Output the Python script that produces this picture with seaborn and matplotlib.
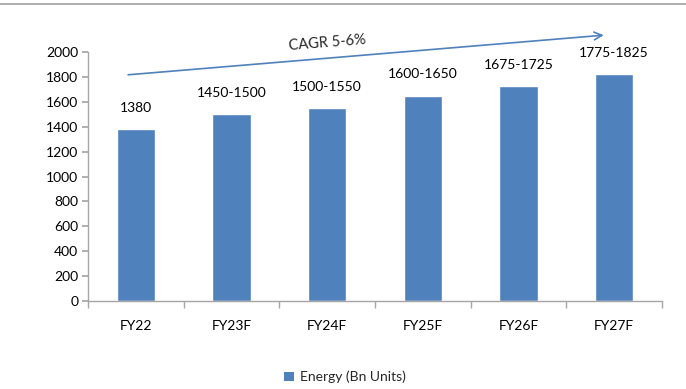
import matplotlib
matplotlib.use("Agg")
import matplotlib.pyplot as plt
from matplotlib.patches import Patch
import seaborn as sns
import pandas as pd

# Energy demand outlook
years = ["FY22", "FY23F", "FY24F", "FY25F", "FY26F", "FY27F"]
energy = [1380, 1500, 1550, 1650, 1725, 1825]
value_labels = ["1380", "1450-1500", "1500-1550", "1600-1650", "1675-1725", "1775-1825"]
series_name = "Energy (Bn Units)"
cagr_text = "CAGR 5-6%"

sns.set_theme(style="white")
plt.rcParams["font.family"] = ["Lato", "DejaVu Sans"]

df = pd.DataFrame({"Year": years, "Energy": energy})

fig = plt.figure(figsize=(6.86, 3.89), dpi=100)
ax = fig.add_axes([88 / 686, 1 - 301 / 389, (662 - 88) / 686, (301 - 52) / 389])

bar_color = "#4F81BD"
sns.barplot(data=df, x="Year", y="Energy", color=bar_color, width=0.4,
            saturation=1, ax=ax)

ax.set_ylim(0, 2000)
ax.set_xlim(-0.5, len(years) - 0.5)
ax.set_yticks(range(0, 2001, 200))
ax.set_xlabel("")
ax.set_ylabel("")

axis_grey = "#A6A6A6"
for side in ["top", "right"]:
    ax.spines[side].set_visible(False)
for side in ["left", "bottom"]:
    ax.spines[side].set_color(axis_grey)
    ax.spines[side].set_linewidth(1.0)

# y ticks outward on the left, x ticks placed between categories
ax.tick_params(axis="y", which="major", left=True, length=4, color=axis_grey,
               labelsize=10, labelcolor="#000000", pad=3)
ax.set_xticks(range(len(years)))
ax.set_xticklabels(years)
ax.tick_params(axis="x", which="major", bottom=False, labelsize=10,
               labelcolor="#000000", pad=8)
ax.set_xticks([i + 0.5 for i in range(-1, len(years))], minor=True)
ax.tick_params(axis="x", which="minor", bottom=True, length=5, color=axis_grey)

# value labels above bars
for i, (v, lab) in enumerate(zip(energy, value_labels)):
    ax.annotate(lab, (i, v), xytext=(0, 11), textcoords="offset points",
                ha="center", va="bottom", fontsize=10, color="#000000")

# growth arrow
ax.annotate("", xy=(4.92, 2137), xytext=(-0.11, 1815),
            arrowprops=dict(arrowstyle="->", color=bar_color, lw=1.2,
                            mutation_scale=14),
            annotation_clip=False)
ax.text(2.0, 2075, cagr_text, ha="center", va="center", fontsize=10.5,
        rotation=4.5, rotation_mode="anchor", clip_on=False)

# thin rule across the top of the figure
fig.add_artist(plt.Line2D([0, 1], [1 - 4 / 389, 1 - 4 / 389],
                          transform=fig.transFigure, color="#A0A0A0", lw=1.2))

fig.legend(handles=[Patch(facecolor=bar_color, edgecolor="none")],
           labels=[series_name], loc="center",
           bbox_to_anchor=(345 / 686, 1 - 377 / 389),
           frameon=False, fontsize=10, handlelength=0.7, handleheight=0.7,
           handletextpad=0.4)

fig.savefig("out.png", dpi=100)
